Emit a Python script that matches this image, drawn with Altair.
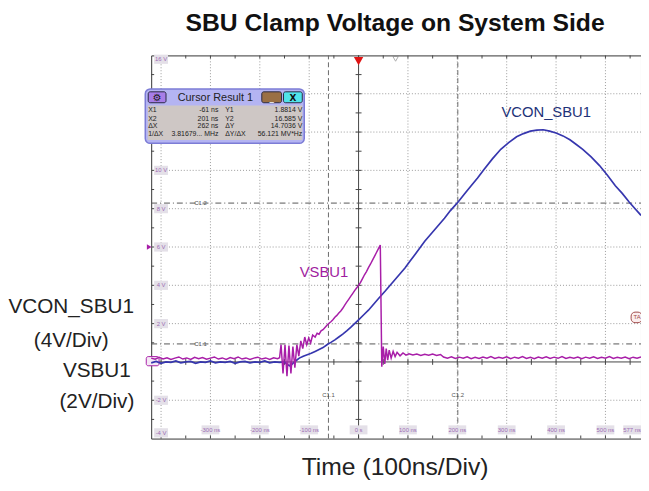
import altair as alt
import pandas as pd

# ---------------- trace data ----------------
# VSBU1, volts (2 V/div grid)
vsbu1_t = [-420, -412, -404, -396, -388, -380, -372, -364, -356, -348, -340, -332, -324, -316, -308,
           -300, -292, -284, -276, -268, -260, -252, -244, -236, -228, -220, -212, -204, -196, -188,
           -180, -172, -164, -160,
           -157, -153, -149, -145, -141, -137, -133, -129, -125, -121, -117, -113, -109, -105, -101,
           -97, -93, -88, -84, -80, -76, -72, -68, -64, -60, -56, -52, -48, -44, -40, -36, -32, -28,
           -24, -20, -16, -12, -8, -4, 0, 4, 8, 12, 16, 20, 24, 28, 32, 36, 40, 44,
           47, 50, 53, 56, 59, 62, 66, 70, 74, 78, 84, 90, 96, 102, 110, 118, 126, 134, 142, 150, 158, 166,
           172, 180, 188, 196, 204, 212, 220, 228, 236, 244, 252, 260, 268, 276, 284, 292, 300, 308,
           316, 324, 332, 340, 348, 356, 364, 372, 380, 388, 396, 404, 412, 420, 428, 436, 444, 452,
           460, 468, 476, 484, 492, 500, 508, 516, 524, 532, 540, 548, 556, 564, 572]
vsbu1_v = [0.2, 0.14, 0.24, 0.16, 0.22, 0.13, 0.2, 0.26, 0.15, 0.21, 0.13, 0.24, 0.17, 0.23, 0.14,
           0.2, 0.26, 0.15, 0.21, 0.13, 0.23, 0.17, 0.26, 0.15, 0.21, 0.13, 0.2, 0.25, 0.15, 0.21,
           0.13, 0.22, 0.17, 0.22,
           0.9, -0.6, 0.9, -0.75, 0.85, -0.6, 0.8, -0.3, 0.9, 0.3, 1.1, 0.7, 1.3, 0.9, 1.25,
           1.0, 1.4, 1.3, 1.5, 1.45, 1.62, 1.68, 1.8, 1.92, 2.02, 2.1, 2.2, 2.33, 2.43, 2.55, 2.66, 2.8, 2.97,
           3.12, 3.27, 3.42, 3.57, 3.72, 3.86, 4.0, 4.15, 4.35, 4.55, 4.72, 4.92, 5.1, 5.3, 5.5, 5.7, 5.9, 6.1,
           -0.25, 0.8, -0.1, 0.7, 0.1, 0.62, 0.2, 0.55, 0.28, 0.5, 0.32, 0.47, 0.36, 0.43, 0.36, 0.41, 0.34, 0.4, 0.35, 0.41, 0.34, 0.39,
           0.26, 0.2, 0.27, 0.18, 0.25, 0.19, 0.27, 0.17, 0.24, 0.18, 0.26, 0.2, 0.28, 0.18, 0.24, 0.19, 0.27, 0.17,
           0.25, 0.2, 0.28, 0.18, 0.24, 0.17, 0.26, 0.2, 0.27, 0.18, 0.25, 0.19, 0.28, 0.18, 0.24, 0.2, 0.26, 0.17,
           0.25, 0.19, 0.27, 0.18, 0.24, 0.2, 0.28, 0.18, 0.24, 0.19, 0.26, 0.17, 0.25, 0.2, 0.26]

# VCON_SBU1, volts (4 V/div -> drawn at half scale on the 2 V/div grid)
vcon_t = [-420, -410, -400, -390, -380, -370, -360, -350, -340, -330, -320, -310, -300, -290, -280,
          -270, -260, -250, -240, -230, -220, -210, -200, -190, -180, -170, -160, -150,
          -146, -140, -136, -130, -125, -120, -112, -104, -96, -88, -80, -72, -64, -56, -48, -40, -32,
          -24, -16, -8, 0, 10, 20, 30, 40, 54, 64, 74, 84, 94, 104, 114, 124, 134, 144, 154, 164, 174,
          186, 200, 214, 228, 241, 254, 271, 288, 304, 320, 334, 348, 361, 374, 387, 400, 414, 428,
          441, 454, 471, 488, 504, 520, 534, 548, 560, 572]
vcon_v = [-0.1, 0.05, -0.15, 0.0, -0.05, 0.1, -0.1, 0.0, 0.05, -0.15, 0.0, -0.05, 0.1, -0.1, 0.0,
          -0.05, 0.05, -0.15, 0.0, 0.05, -0.1, 0.0, -0.05, 0.1, -0.1, 0.0, -0.05, 0.0,
          -0.2, -0.4, -0.3, 0.0, 0.2, 0.4, 0.6, 0.76, 0.9, 1.1, 1.3, 1.5, 1.8, 2.04, 2.3, 2.6, 2.9,
          3.24, 3.6, 4.0, 4.4, 4.9, 5.4, 6.0, 6.6, 7.4, 8.0, 8.6, 9.2, 9.8, 10.5, 11.2, 11.9, 12.6, 13.2, 13.8, 14.4, 15.0,
          15.8, 16.6, 17.5, 18.4, 19.2, 20.1, 21.2, 22.2, 22.9, 23.5, 23.84, 24.1, 24.2, 24.24, 24.1, 23.9, 23.6, 23.2,
          22.7, 22.2, 21.4, 20.5, 19.5, 18.4, 17.6, 16.7, 16.0, 15.3]
vcon_div_ratio = 0.5  # 4 V/div shown on a 2 V/div graticule

# ---------------- graticule, cursors, labels ----------------
x_grid = [-400, -300, -200, -100, 100, 200, 300, 400, 500]
y_grid = [-2, 2, 4, 6, 8, 10, 12, 14]
cursor_x = [-61, 201]
cursor_x_names = ["C1.1", "C1.2"]
cursor_y_vcon = [1.8814, 16.585]
cursor_y_names = ["C1.1", "C1.2"]

time_labels = ["-300 ns", "-200 ns", "-100 ns", "0 s", "100 ns", "200 ns", "300 ns", "400 ns", "500 ns", "577 ns"]
time_label_pos = [-300, -200, -100, 0, 100, 200, 300, 400, 500, 554]
volt_labels = ["16 V", "10 V", "8 V", "6 V", "4 V", "2 V", "-2 V", "-4 V"]
volt_label_pos = [15.8, 10, 8, 6, 4, 2, -2, -3.7]

result_rows = [["X1", "-61 ns", "Y1", "1.8814 V"],
               ["X2", "201 ns", "Y2", "16.585 V"],
               ["ΔX", "262 ns", "ΔY", "14.7036 V"],
               ["1/ΔX", "3.81679... MHz", "ΔY/ΔX", "56.121 MV*Hz"]]

XMIN, XMAX, YMIN, YMAX = -420, 572, -4, 16
xs = alt.Scale(domain=[XMIN, XMAX], nice=False, zero=False)
ys = alt.Scale(domain=[YMIN, YMAX], nice=False, zero=False)

MAG = "#a81ea8"
BLUE = "#3636ae"
LBL = "#9c6cb4"


def X(f="t"):
    return alt.X(f"{f}:Q", scale=xs, axis=None)


def Y(f="v"):
    return alt.Y(f"{f}:Q", scale=ys, axis=None)


def rules(df, **kw):
    return alt.Chart(df).mark_rule(**kw).encode(x=X("t"), x2="t2:Q", y=Y("v"), y2="v2:Q")


def texts(df, **kw):
    return alt.Chart(df).mark_text(**kw).encode(x=X("t"), y=Y("v"), text="label:N")


def rects(df, **kw):
    return alt.Chart(df).mark_rect(**kw).encode(x=X("t"), x2="t2:Q", y=Y("v"), y2="v2:Q")


layers = []

# dotted graticule
gv = pd.DataFrame({"t": x_grid, "t2": x_grid, "v": YMIN, "v2": YMAX})
gh = pd.DataFrame({"t": XMIN, "t2": XMAX, "v": y_grid, "v2": y_grid})
layers.append(rules(gv, color="#9a9a9a", strokeDash=[1, 2], strokeWidth=1))
layers.append(rules(gh, color="#9a9a9a", strokeDash=[1, 2], strokeWidth=1))

# centre axes (0 s, 0 V) with half-division ticks
axes = pd.DataFrame({"t": [0, XMIN], "t2": [0, XMAX], "v": [YMIN, 0], "v2": [YMAX, 0]})
layers.append(rules(axes, color="#444444", strokeWidth=1))
tx = list(range(-400, XMAX, 50))
ty = list(range(-3, 16, 1))
tick_rows = []
for t in tx:
    tick_rows.append((t, t, -0.15, 0.15))
    tick_rows.append((t, t, YMAX - 0.16, YMAX))
    tick_rows.append((t, t, YMIN, YMIN + 0.16))
for v in ty:
    tick_rows.append((-6, 6, v, v))
    tick_rows.append((XMIN, XMIN + 6, v, v))
ticks = pd.DataFrame(tick_rows, columns=["t", "t2", "v", "v2"])
layers.append(rules(ticks, color="#444444", strokeWidth=1))

# cursors
cv = pd.DataFrame({"t": cursor_x, "t2": cursor_x, "v": YMIN, "v2": YMAX})
layers.append(rules(cv, color="#6a6a6a", strokeDash=[5, 3], strokeWidth=1))
cy = [c * vcon_div_ratio for c in cursor_y_vcon]
ch = pd.DataFrame({"t": XMIN, "t2": XMAX, "v": cy, "v2": cy})
layers.append(rules(ch, color="#555555", strokeDash=[6, 3, 1, 3], strokeWidth=1))
cl = pd.DataFrame({"t": [-320, -320] + cursor_x, "v": cy + [-1.75, -1.75],
                   "label": cursor_y_names + cursor_x_names})
layers.append(texts(cl, font="Liberation Sans", fontSize=6, color="#555555"))

# graticule labels (purple on grey chips)
vl = pd.DataFrame({"t": -414, "t2": -386, "v": [p - 0.24 for p in volt_label_pos],
                   "v2": [p + 0.24 for p in volt_label_pos]})
layers.append(rects(vl, color="#e4e0e8"))
layers.append(texts(pd.DataFrame({"t": -400, "v": volt_label_pos, "label": volt_labels}),
                    font="Liberation Sans", fontSize=6, color=LBL))
tl = pd.DataFrame({"t": [p - 18 for p in time_label_pos], "t2": [p + 18 for p in time_label_pos],
                   "v": -3.78, "v2": -3.31})
layers.append(rects(tl, color="#e4e0e8"))
layers.append(texts(pd.DataFrame({"t": time_label_pos, "v": -3.55, "label": time_labels}),
                    font="Liberation Sans", fontSize=6, color=LBL))

# channel / trigger markers
layers.append(rects(pd.DataFrame({"t": [-430], "t2": [-404], "v": [-0.2], "v2": [0.28]}),
                    fill="#f4e8f4", stroke=MAG, strokeWidth=1, cornerRadius=2))
layers.append(alt.Chart(pd.DataFrame({"t": [-424], "v": [6.0]})).mark_point(
    shape="triangle-right", filled=True, color=MAG, size=30, opacity=1).encode(x=X(), y=Y()))
layers.append(rects(pd.DataFrame({"t": [552], "t2": [574], "v": [2.05], "v2": [2.6]}),
                    fill="#fbeeee", stroke="#a04848", strokeWidth=1, cornerRadius=4))
layers.append(texts(pd.DataFrame({"t": [564], "v": [2.33], "label": ["TA"]}),
                    font="Liberation Sans", fontSize=6, color="#a04848"))
layers.append(alt.Chart(pd.DataFrame({"t": [0], "v": [15.7]})).mark_point(
    shape="triangle-down", filled=True, color="#e01414", size=90, opacity=1).encode(x=X(), y=Y()))
layers.append(alt.Chart(pd.DataFrame({"t": [75], "v": [15.82]})).mark_point(
    shape="triangle-down", filled=False, color="#8a8a8a", size=30, strokeWidth=1).encode(x=X(), y=Y()))

# traces
vcon_df = pd.DataFrame({"t": vcon_t, "v": [v * vcon_div_ratio for v in vcon_v]})
vsbu_df = pd.DataFrame({"t": vsbu1_t, "v": vsbu1_v})
layers.append(alt.Chart(vcon_df).mark_line(color=BLUE, strokeWidth=1.7).encode(x=X(), y=Y()))
layers.append(alt.Chart(vsbu_df).mark_line(color=MAG, strokeWidth=1.5).encode(x=X(), y=Y()))

# trace names
layers.append(texts(pd.DataFrame({"t": [380], "v": [13.05], "label": ["VCON_SBU1"]}),
                    font="Liberation Sans", fontSize=15, color="#1e3278"))
layers.append(texts(pd.DataFrame({"t": [-70], "v": [4.7], "label": ["VSBU1"]}),
                    font="Liberation Sans", fontSize=15, color="#a01ca0"))

# cursor result box
layers.append(rects(pd.DataFrame({"t": [-432], "t2": [-110], "v": [11.41], "v2": [14.25]}),
                    fill="#b4b4f2", stroke="#7c7cd6", strokeWidth=1.5, cornerRadius=5))
layers.append(rects(pd.DataFrame({"t": [-427], "t2": [-114], "v": [11.58], "v2": [13.38]}),
                    fill="#cec7c5"))
btn = pd.DataFrame({"t": [-426, -196, -152], "t2": [-390, -156, -114], "v": [13.53] * 3, "v2": [14.1] * 3,
                    "c": ["#a77de8", "#9a7044", "#50e4ea"]})
layers.append(alt.Chart(btn).mark_rect(stroke="#2a2a44", strokeWidth=1, cornerRadius=2).encode(
    x=X("t"), x2="t2:Q", y=Y("v"), y2="v2:Q", color=alt.Color("c:N", scale=None)))
layers.append(texts(pd.DataFrame({"t": [-408], "v": [13.8], "label": ["⚙"]}),
                    font="DejaVu Sans", fontSize=10, color="#222222"))
layers.append(texts(pd.DataFrame({"t": [-176], "v": [13.75], "label": ["_"]}),
                    font="DejaVu Sans", fontSize=9, fontWeight="bold", color="#f0f0f0"))
layers.append(texts(pd.DataFrame({"t": [-133], "v": [13.8], "label": ["X"]}),
                    font="DejaVu Sans", fontSize=9, fontWeight="bold", color="#111111"))
layers.append(texts(pd.DataFrame({"t": [-290], "v": [13.8], "label": ["Cursor Result 1"]}),
                    font="Liberation Sans", fontSize=11, color="#222222"))
row_v = [13.16, 12.7, 12.29, 11.88]
c1 = pd.DataFrame({"t": -426, "v": row_v, "label": [r[0] for r in result_rows]})
c2 = pd.DataFrame({"t": -284, "v": row_v, "label": [r[1] for r in result_rows]})
c3 = pd.DataFrame({"t": -270, "v": row_v, "label": [r[2] for r in result_rows]})
c4 = pd.DataFrame({"t": -114, "v": row_v, "label": [r[3] for r in result_rows]})
for df, al in [(c1, "left"), (c2, "right"), (c3, "left"), (c4, "right")]:
    layers.append(texts(df, font="Liberation Sans", fontSize=7, color="#222222", align=al))

# outside texts: title, side labels, time label
outside = pd.DataFrame({
    "t": [74, -582, -582, -530, -530, 74],
    "v": [17.7, 2.86, 1.1, -0.49, -2.09, -5.49],
    "label": ["SBU Clamp Voltage on System Side", "VCON_SBU1", "(4V/Div)", "VSBU1", "(2V/Div)",
              "Time (100ns/Div)"],
    "s": [25, 21, 21, 21, 21, 25],
    "w": ["bold", "normal", "normal", "normal", "normal", "normal"],
})
layers.append(texts(outside[outside.s == 25][outside.w == "bold"], font="Liberation Sans", fontSize=25,
                    fontWeight="bold", color="#111111"))
layers.append(texts(outside[(outside.s == 25) & (outside.w == "normal")], font="Liberation Sans",
                    fontSize=25, color="#222222"))
layers.append(texts(outside[outside.s == 21], font="Liberation Sans", fontSize=21, color="#222222"))

chart = alt.layer(*layers).properties(
    width=496, height=388,
    padding={"left": 145, "top": 45, "right": 0, "bottom": 45},
    autosize=alt.AutoSizeParams(type="none"),
).configure_view(stroke="#333333", strokeWidth=1)

chart.save("out.html", embed_options={"renderer": "svg", "actions": False})
